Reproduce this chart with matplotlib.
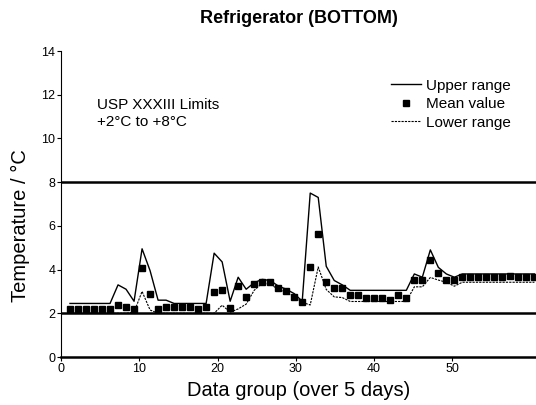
import matplotlib
matplotlib.use("Agg")
import matplotlib.pyplot as plt
import numpy as np

plt.rcParams["font.family"] = ["Liberation Sans", "DejaVu Sans"]

# 59 evenly spaced groups, first/last positions
group = np.linspace(1.15, 60.5, 59)

upper = [2.45, 2.45, 2.45, 2.45, 2.45, 2.45, 3.3, 3.1, 2.55, 4.95,
         3.95, 2.6, 2.6, 2.45, 2.45, 2.45, 2.45, 2.45, 4.75, 4.35,
         2.55, 3.65, 3.1, 3.4, 3.55, 3.5, 3.25, 3.1, 2.9, 2.55,
         7.5, 7.3, 4.15, 3.5, 3.3, 3.05, 3.05, 3.05, 3.05, 3.05,
         3.05, 3.05, 3.05, 3.8, 3.65, 4.9, 4.1, 3.8, 3.65, 3.8,
         3.8, 3.8, 3.8, 3.8, 3.8, 3.8, 3.8, 3.8, 3.8]

mean = [2.2, 2.2, 2.2, 2.2, 2.2, 2.2, 2.37, 2.27, 2.18, 4.06,
        2.88, 2.2, 2.27, 2.27, 2.27, 2.27, 2.18, 2.27, 2.98, 3.06,
        2.25, 3.26, 2.75, 3.36, 3.45, 3.45, 3.15, 3.0, 2.75, 2.52,
        4.12, 5.62, 3.42, 3.15, 3.15, 2.85, 2.85, 2.72, 2.72, 2.72,
        2.63, 2.85, 2.72, 3.52, 3.52, 4.43, 3.85, 3.52, 3.52, 3.64,
        3.64, 3.64, 3.64, 3.64, 3.64, 3.72, 3.64, 3.64, 3.64]

lower = [2.0, 2.0, 2.0, 2.0, 2.0, 2.0, 2.0, 2.0, 2.05, 3.0,
         2.15, 2.0, 2.0, 2.0, 2.0, 2.0, 2.0, 2.0, 2.0, 2.37,
         2.05, 2.2, 2.42, 3.05, 3.38, 3.33, 3.1, 2.97, 2.72, 2.5,
         2.38, 4.12, 3.09, 2.75, 2.72, 2.54, 2.54, 2.54, 2.54, 2.54,
         2.54, 2.54, 2.54, 3.21, 3.21, 3.64, 3.52, 3.42, 3.24, 3.42,
         3.42, 3.42, 3.42, 3.42, 3.42, 3.42, 3.42, 3.42, 3.42]

limits = [2, 8]

fig = plt.figure(figsize=(5.36, 4.05), dpi=100)
ax = fig.add_axes([61 / 536, 48 / 405, 475 / 536, 306 / 405])

ax.plot(group, upper, color="black", lw=1.0, label="Upper range")
ax.plot(group, mean, ls="none", marker="s", ms=4.5, color="black", label="Mean value")
ax.plot(group, lower, color="black", lw=0.8, ls=(0, (2, 1)), label="Lower range")
for lim in limits:
    ax.axhline(lim, color="black", lw=1.8)

ax.set_xlim(0, 60.7)
ax.set_ylim(0, 14)
ax.set_xticks([0, 10, 20, 30, 40, 50])
ax.set_yticks(range(0, 15, 2))
ax.tick_params(labelsize=9, length=3, width=0.8, pad=1)

for side in ["top", "right"]:
    ax.spines[side].set_visible(False)
ax.spines["bottom"].set_linewidth(1.8)
ax.spines["left"].set_linewidth(0.8)

ax.set_xlabel("Data group (over 5 days)", fontsize=14.5, labelpad=5)
ax.set_ylabel("Temperature / °C", fontsize=14.5)
ax.yaxis.set_label_coords(-0.065, 0.43)
ax.set_title("Refrigerator (BOTTOM)", fontsize=13, fontweight="bold", pad=20)

ax.text(4.6, 11.15, "USP XXXIII Limits\n+2°C to +8°C", fontsize=11,
        va="center", ha="left", linespacing=1.3)

ax.legend(loc="upper right", bbox_to_anchor=(0.96, 0.93), frameon=False,
          fontsize=11, handlelength=2.0, handletextpad=0.3,
          labelspacing=0.3, borderaxespad=0.0)

fig.savefig("out.png", dpi=100)
